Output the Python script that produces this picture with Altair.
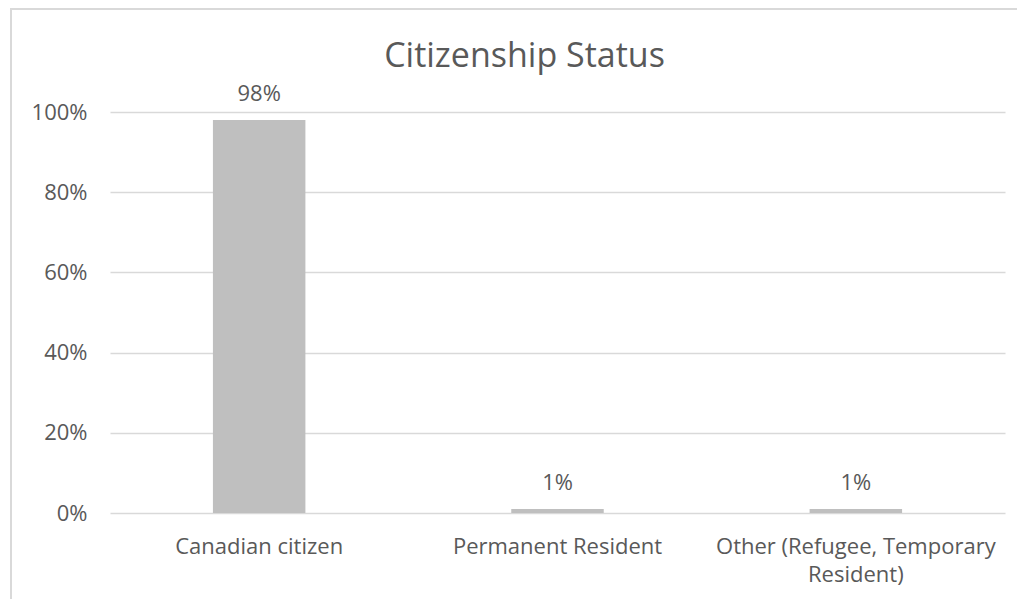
import altair as alt
import pandas as pd

categories = ["Canadian citizen", "Permanent Resident", "Other (Refugee, Temporary Resident)"]
shares = [0.98, 0.01, 0.01]
y_ticks = [0, 0.2, 0.4, 0.6, 0.8, 1.0]
title_text = "Citizenship Status"

df = pd.DataFrame({"category": categories, "share": shares})

FONT = "Open Sans"
TXT = "#595959"
GRID = "#D9D9D9"
BAR = "#BFBFBF"

x_enc = alt.X(
    "category:N",
    sort=categories,
    scale=alt.Scale(paddingInner=0.69, paddingOuter=0.345),
    axis=alt.Axis(
        title=None, labelAngle=0, domain=False, ticks=False, labelPadding=23,
        labelFontSize=22, labelFont=FONT, labelColor=TXT, labelLineHeight=28,
        labelLimit=400,
        labelExpr="datum.value == 'Other (Refugee, Temporary Resident)' ? ['Other (Refugee, Temporary', 'Resident)'] : datum.value",
    ),
)
y_enc = alt.Y(
    "share:Q",
    scale=alt.Scale(domain=[0, 1]),
    axis=alt.Axis(
        title=None, values=y_ticks, format=".0%", domain=False, ticks=False,
        labelPadding=23, labelFontSize=22, labelFont=FONT, labelColor=TXT,
        gridColor=GRID, gridWidth=1.5,
    ),
)

base = alt.Chart(df)
bars = base.mark_bar(color=BAR).encode(x=x_enc, y=y_enc)
labels = base.mark_text(
    baseline="alphabetic", dy=-19, font=FONT, fontSize=22, color=TXT
).encode(x=alt.X("category:N", sort=categories), y="share:Q", text=alt.Text("share:Q", format=".0%"))

frame = alt.Chart(pd.DataFrame({"a": [0]})).mark_rect(
    fill="transparent", stroke=GRID, strokeWidth=2, clip=False
).encode(x=alt.value(-99), x2=alt.value(940), y=alt.value(-103), y2=alt.value(620))

chart = alt.layer(frame, bars, labels).properties(
    width=895,
    height=401,
    autosize=alt.AutoSizeParams(type="none"),
    padding={"left": 102, "top": 104, "right": 12, "bottom": 86},
    background="white",
    title=alt.TitleParams(
        title_text, font=FONT, fontSize=34, fontWeight="normal", color=TXT,
        anchor="middle", dx=-33, offset=-93, baseline="alphabetic",
    ),
).configure_view(stroke=None)

chart.save("out.html", embed_options={"renderer": "svg", "actions": False})
